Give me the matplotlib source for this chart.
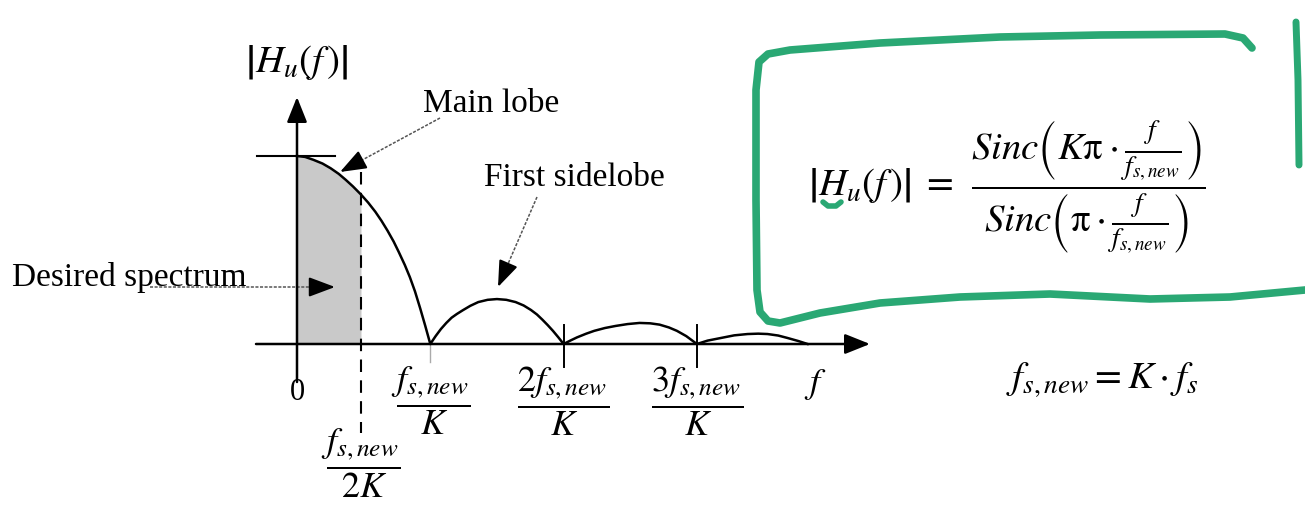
import numpy as np
import matplotlib
matplotlib.use("Agg")
import matplotlib.pyplot as plt

plt.rcParams['font.family'] = ['Liberation Serif', 'DejaVu Serif']
plt.rcParams['mathtext.fontset'] = 'stix'

# |H_u(f)|, f in units of fs_new/K, one list per lobe
f_main = [0.0, 0.061, 0.122, 0.191, 0.252, 0.313, 0.366, 0.42, 0.48, 0.534, 0.588, 0.634,
          0.679, 0.725, 0.763, 0.809, 0.847, 0.885, 0.924, 0.962, 1.0]
h_main = [1.0, 0.995, 0.98, 0.96, 0.935, 0.905, 0.873, 0.838, 0.795, 0.752, 0.703, 0.655,
          0.603, 0.545, 0.49, 0.42, 0.355, 0.28, 0.19, 0.097, 0.0]

f_side1 = [1.0, 1.04, 1.08, 1.12, 1.16, 1.2, 1.245, 1.3, 1.36, 1.43, 1.5, 1.57, 1.64, 1.7,
           1.755, 1.8, 1.84, 1.88, 1.92, 1.96, 2.0]
h_side1 = [0.0, 0.042, 0.08, 0.112, 0.14, 0.16, 0.18, 0.203, 0.223, 0.235, 0.239, 0.235,
           0.223, 0.205, 0.181, 0.157, 0.13, 0.101, 0.07, 0.036, 0.0]

f_side2 = [2.0, 2.05, 2.1, 2.17, 2.23, 2.31, 2.39, 2.48, 2.57, 2.65, 2.72, 2.79, 2.85, 2.92, 3.0]
h_side2 = [0.0, 0.018, 0.035, 0.055, 0.07, 0.085, 0.096, 0.106, 0.112, 0.11, 0.103, 0.088, 0.07,
           0.042, 0.0]

f_side3 = [3.0, 3.08, 3.18, 3.28, 3.38, 3.46, 3.53, 3.61, 3.68, 3.76, 3.83]
h_side3 = [0.0, 0.018, 0.032, 0.046, 0.053, 0.055, 0.053, 0.045, 0.032, 0.016, 0.0]

f_band = 0.48          # fs_new / 2K, edge of the wanted band
tick_pos = [1, 2, 3]
tick_labels = [r'$\dfrac{f_{s,new}}{K}$', r'$\dfrac{2f_{s,new}}{K}$', r'$\dfrac{3f_{s,new}}{K}$']
band_label = r'$\dfrac{f_{s,new}}{2K}$'

W, H = 1305, 505
X0, XS = 297, 133.3    # pixel of f=0, pixels per fs_new/K
Y0, YS = 344, 188      # pixel of |H|=0, pixels per unit gain


def px(x, y):
    return ((x - X0) / XS, (Y0 - y) / YS)


fig = plt.figure(figsize=(W / 100, H / 100), dpi=100)
ax = fig.add_axes([0, 0, 1, 1])
ax.set_xlim(px(0, 0)[0], px(W, 0)[0])
ax.set_ylim(px(0, H)[1], px(0, 0)[1])
ax.axis('off')

f_all = np.concatenate([f_main, f_side1[1:], f_side2[1:], f_side3[1:]])
h_all = np.concatenate([h_main, h_side1[1:], h_side2[1:], h_side3[1:]])

# shaded wanted band under the main lobe
fm = np.array(f_main)
hm = np.array(h_main)
sel = fm <= f_band
ax.fill_between(fm[sel], 0, hm[sel], color='#c9c9c9', lw=0, zorder=1)

ax.plot(f_all, h_all, color='black', lw=1.8, zorder=3)

# axes with arrow heads
ahead = dict(arrowstyle='-|>,head_length=0.7,head_width=0.28', color='black', lw=1.8,
             mutation_scale=22, shrinkA=0, shrinkB=0)
ax.annotate('', xy=px(870, 344), xytext=px(256, 344), arrowprops=ahead)
ax.annotate('', xy=px(297, 97), xytext=px(297, 382), arrowprops=ahead)

# peak marker and band edge
ax.plot([px(257, 0)[0], px(335, 0)[0]], [1, 1], color='black', lw=1.5)
ax.plot([f_band, f_band], [px(0, 172)[1], px(0, 433)[1]], color='black', lw=1.5, dashes=(6, 4))

for t in tick_pos[1:]:
    ax.plot([t, t], [px(0, 325)[1], px(0, 367)[1]], color='black', lw=1.4)
ax.plot([tick_pos[0], tick_pos[0]], [0, px(0, 362)[1]], color='#aaaaaa', lw=1.0)

for t, lab in zip(tick_pos, tick_labels):
    ax.text(t, px(0, 401)[1], lab, fontsize=26, ha='center', va='center')
ax.text(f_band, px(0, 463)[1], band_label, fontsize=26, ha='center', va='center')
ax.text(0, px(0, 393)[1], '0', fontsize=22, ha='center', va='center')
ax.text(*px(815, 384), r'$f$', fontsize=26, ha='center', va='center')
ax.text(*px(297, 63), r'$\left|H_u(f\,)\right|$', fontsize=28, ha='center', va='center')

# callouts
ax.text(*px(423, 112), 'Main lobe', fontsize=24, ha='left', va='baseline')
ax.text(*px(484, 186), 'First sidelobe', fontsize=24, ha='left', va='baseline')
ax.text(*px(12, 286), 'Desired spectrum', fontsize=24, ha='left', va='baseline')


def pointer(start, tip):
    s = np.array(start, float)
    e = np.array(tip, float)
    u = (e - s) / np.hypot(*(e - s))
    mid = e - 18 * u
    ax.plot([px(*s)[0], px(*mid)[0]], [px(*s)[1], px(*mid)[1]], color='#555555', lw=1.1,
            dashes=(2, 1))
    ax.annotate('', xy=px(*e), xytext=px(*(e - 20 * u)),
                arrowprops=dict(arrowstyle='-|>,head_length=0.8,head_width=0.3', color='black',
                                lw=1.5, mutation_scale=20, shrinkA=0, shrinkB=0))


pointer((440, 118), (340, 172))
pointer((537, 197), (498, 287))
pointer((150, 287), (335, 287))

# formula box
formula = (r'$\left|H_u(f\,)\right| \;=\;\, \dfrac{Sinc\left(K\mathrm{\pi}\cdot\frac{f}{f_{s,new}}\right)}'
           r'{Sinc\left(\mathrm{\pi}\cdot\frac{f}{f_{s,new}}\right)}$')
ax.text(*px(808, 187), formula, fontsize=28, ha='left', va='center')
ax.text(*px(1102, 380), r'$f_{s,new} = K\cdot f_s$', fontsize=28, ha='center', va='center')

green = '#2aa874'
box = [(1252, 48), (1243, 38), (1225, 34), (1100, 35), (1000, 37), (880, 43), (790, 50),
       (768, 54), (759, 62), (756, 90), (756, 200), (757, 290), (760, 312), (768, 321),
       (780, 323), (820, 313), (880, 303), (960, 297), (1050, 294), (1150, 299), (1230, 297),
       (1305, 290)]
bx, by = zip(*[px(x, y) for x, y in box])
ax.plot(bx, by, color=green, lw=5.5, solid_capstyle='round', solid_joinstyle='round')
side = [(1296, 22), (1298, 80), (1299, 165)]
sx, sy = zip(*[px(x, y) for x, y in side])
ax.plot(sx, sy, color=green, lw=5, solid_capstyle='round')
mark = [(823, 202), (828, 206), (836, 206), (841, 202)]
mx, my = zip(*[px(x, y) for x, y in mark])
ax.plot(mx, my, color=green, lw=4, solid_capstyle='round')

fig.savefig('out.png', dpi=100)
